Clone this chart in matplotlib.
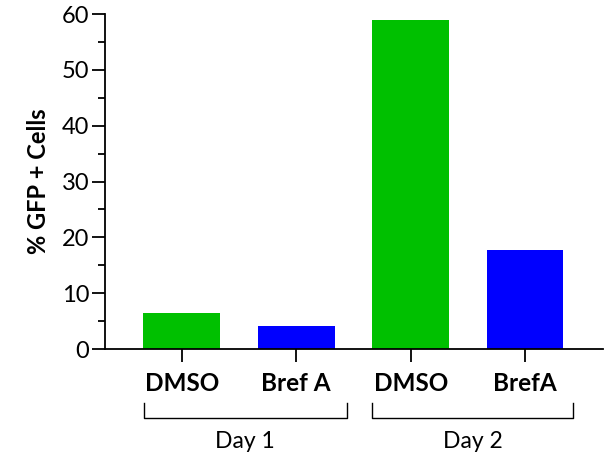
import numpy as np
import matplotlib.pyplot as plt
import matplotlib.transforms as mtransforms
from matplotlib.ticker import MultipleLocator

plt.rcParams['font.family'] = ['Lato', 'DejaVu Sans']

labels = ["DMSO", "Bref A", "DMSO", "BrefA"]
values = [6.4, 4.1, 58.9, 17.7]
colors = ["#00C000", "#0000FF", "#00C000", "#0000FF"]
groups = ["Day 1", "Day 2"]
group_spans = [(-0.33, 1.44), (1.66, 3.42)]

fig = plt.figure(figsize=(6.05, 4.57), dpi=100)
ax = fig.add_axes([0.1736, 0.2363, 0.823, 0.733])

x = np.arange(len(values))
ax.bar(x, values, width=0.67, color=colors)

ax.set_xlim(-0.67, 3.68)
ax.set_ylim(0, 60)
ax.yaxis.set_major_locator(MultipleLocator(10))
ax.yaxis.set_minor_locator(MultipleLocator(5))
ax.set_xticks(x)
ax.set_xticklabels(labels, fontweight='bold', fontsize=17.5)
ax.tick_params(axis='y', labelsize=17, width=1.3, length=9.5, pad=2)
ax.tick_params(axis='y', which='minor', width=1.3, length=5)
ax.tick_params(axis='x', width=1.3, length=9.5, pad=7)

for s in ['top', 'right']:
    ax.spines[s].set_visible(False)
for s in ['left', 'bottom']:
    ax.spines[s].set_linewidth(1.3)

ax.set_ylabel("% GFP + Cells", fontweight='bold', fontsize=17, labelpad=8)

trans = mtransforms.blended_transform_factory(ax.transData, ax.transAxes)
for name, (x0, x1) in zip(groups, group_spans):
    ax.plot([x0, x0, x1, x1], [-0.161, -0.206, -0.206, -0.161], color='black',
            lw=1, transform=trans, clip_on=False)
    ax.text((x0 + x1) / 2, -0.275, name, transform=trans, ha='center', va='center',
            fontsize=16.5)

fig.savefig("out.png", dpi=100)
